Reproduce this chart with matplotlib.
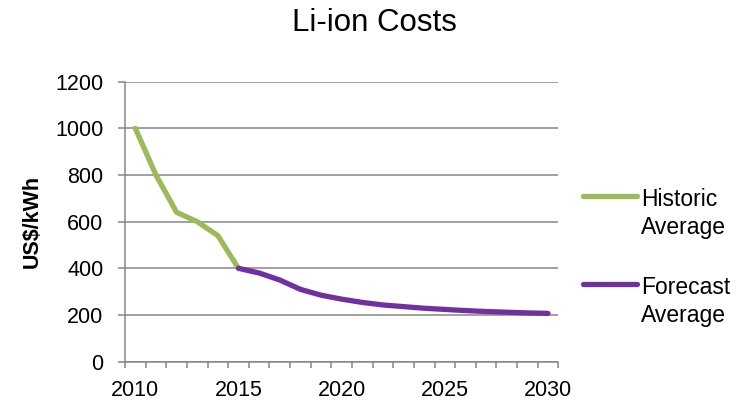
import numpy as np
import matplotlib.pyplot as plt
from matplotlib.lines import Line2D
from matplotlib.ticker import FixedLocator

plt.rcParams["font.family"] = ["Liberation Sans", "DejaVu Sans"]

# --- data ---
years = np.arange(2010, 2031)
historic_years = [2010, 2011, 2012, 2013, 2014, 2015]
historic_cost = [1000, 800, 640, 600, 540, 400]
forecast_years = list(range(2015, 2031))
forecast_cost = [400, 380, 350, 310, 285, 268, 254, 243, 236, 229, 224,
                 219, 215, 212, 209, 207]
year_labels = [2010, 2015, 2020, 2025, 2030]
cost_ticks = [0, 200, 400, 600, 800, 1000, 1200]

GREEN = "#9BBB59"
PURPLE = "#7030A0"
GRID = "#868686"

fig = plt.figure(figsize=(7.49, 4.01), dpi=100)
ax = fig.add_axes([0.1669, 0.098, 0.5785, 0.6985])

ax.plot(historic_years, historic_cost, color=GREEN, lw=3.8,
        solid_capstyle="round", solid_joinstyle="round", zorder=3)
ax.plot(forecast_years, forecast_cost, color=PURPLE, lw=3.8,
        solid_capstyle="round", solid_joinstyle="round", zorder=3)

# axes and grid
ax.set_xlim(years[0] - 0.5, years[-1] + 0.5)
ax.set_ylim(0, 1200)
ax.set_yticks(cost_ticks)
ax.set_xticks(year_labels)
ax.xaxis.set_minor_locator(FixedLocator(np.arange(years[0] - 0.5, years[-1] + 1.0, 1.0)))
ax.yaxis.grid(True, color=GRID, lw=1.1)
ax.set_axisbelow(True)

for side in ["top", "right"]:
    ax.spines[side].set_visible(False)
for side in ["left", "bottom"]:
    ax.spines[side].set_color(GRID)
    ax.spines[side].set_linewidth(1.1)

ax.tick_params(axis="y", direction="out", length=5, width=1.1, color=GRID,
               pad=10.5, labelsize=15.5)
ax.tick_params(axis="x", which="major", length=0, pad=13.5, labelsize=15.5)
ax.tick_params(axis="x", which="minor", direction="out", length=4.2, width=1.1,
               color=GRID)

# title and y label
fig.text(0.5, 0.942, "Li-ion Costs", ha="center", va="center", fontsize=22.5)
fig.text(0.043, 0.447, "US$/kWh", rotation=90, ha="center", va="center",
         fontsize=15.5, fontweight="bold")

# legend, Excel style: line beside the first text row
for y, color, label in [(196, GREEN, "Historic\nAverage"),
                        (284, PURPLE, "Forecast\nAverage")]:
    fy = 1 - y / 401
    fig.add_artist(Line2D([583 / 749, 637 / 749], [fy, fy], color=color, lw=3.8,
                          solid_capstyle="round"))
    fig.text(641 / 749, fy + 0.021, label, ha="left", va="top", fontsize=16.5,
             linespacing=1.3)

fig.savefig("out.png", dpi=100)
